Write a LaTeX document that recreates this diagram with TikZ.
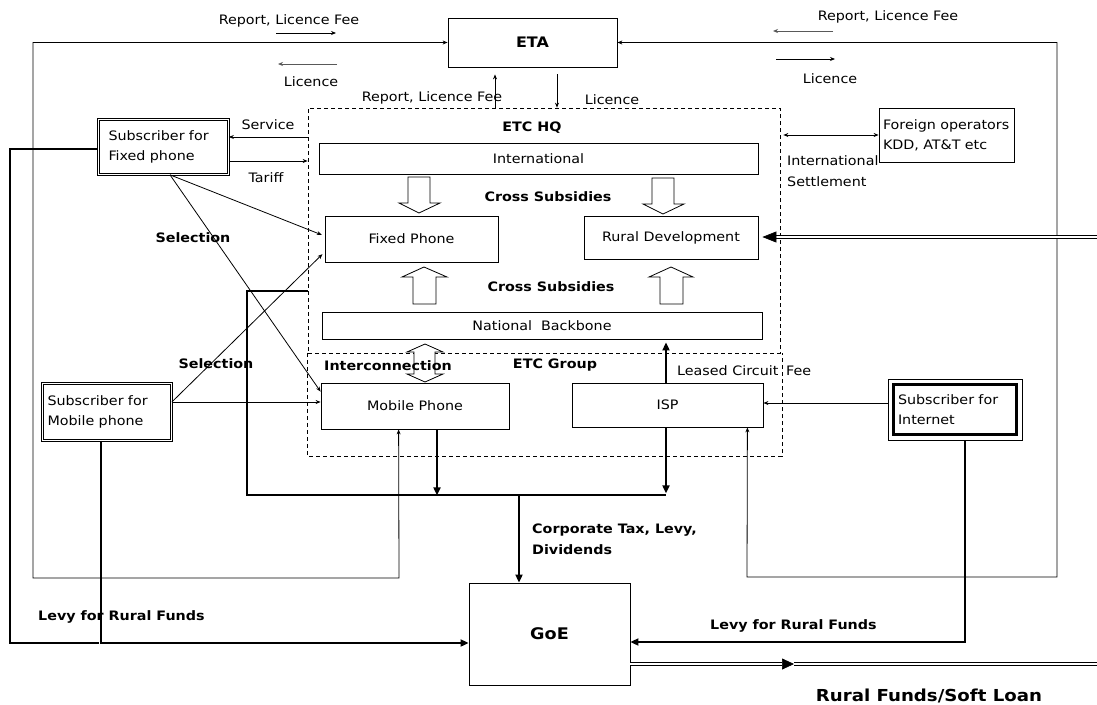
\documentclass[tikz,border=0pt]{standalone}
\usepackage{fontspec}
\setmainfont{DejaVu Sans}[FakeStretch=1.1]
\usetikzlibrary{arrows.meta}
\newcommand{\fN}{\fontsize{13}{20}\selectfont}
\newcommand{\fB}{\bfseries\fontsize{13}{21}\selectfont}
\begin{document}
\begin{tikzpicture}[x=1pt,y=-1pt,
  >={Stealth[length=5pt,width=4pt]},
  ln/.style={line width=0.8pt},
  thk/.style={line width=1.8pt},
  box/.style={draw, line width=0.8pt, inner sep=0pt, font=\fN},
  sub/.style={draw, double, double distance=1.5pt, line width=0.7pt, align=left, inner ysep=0pt, font=\fN},
  lbl/.style={inner sep=0pt, font=\fN},
  blbl/.style={inner sep=0pt, font=\fB},
  hollow/.style={draw, line width=0.8pt, fill=white},
  dashline/.style={line width=0.7pt, dash pattern=on 4pt off 3pt},
  dbl/.style={double, double distance=2pt, line width=0.7pt}
]
\useasboundingbox (0,0) rectangle (1097,704);

% dashed groups
\node[draw, dashline, inner sep=0pt, minimum width=472pt, minimum height=245pt] (hq) at (544,230.5) {};
\node[inner sep=0pt, minimum width=474pt, minimum height=103pt] (grp) at (545,404.5) {};
\draw[dashline] (grp.north west) -- (grp.south west) -- (grp.south east) -- (grp.north east);

% boxes
\node[box, minimum width=169pt, minimum height=49pt, font=\bfseries\fontsize{14.5}{17}\selectfont] (eta) at (532.5,42.5) {ETA};
\node[box, minimum width=439pt, minimum height=31pt] (intl) at (538.5,158.5) {International};
\node[box, minimum width=173pt, minimum height=46pt] (fp) at (411.5,239) {Fixed Phone};
\node[box, minimum width=174pt, minimum height=43pt] (rd) at (671,237.5) {Rural Development};
\node[box, minimum width=440pt, minimum height=27pt] (nb) at (542,325.5) {National\hspace{0.7em}Backbone};
\node[box, minimum width=188pt, minimum height=46pt] (mob) at (415,406) {Mobile Phone};
\node[box, minimum width=191pt, minimum height=44pt] (isp) at (667.5,405) {ISP};
\node[box, minimum width=161pt, minimum height=102pt, font=\bfseries\fontsize{16}{19}\selectfont] (gov) at (549.5,634) {GoE};
\node[box, minimum width=135pt, minimum height=54pt, inner xsep=4pt, text width=127pt, align=left] (fo) at (946.5,135) {\hyphenpenalty=10000 Foreign operators\\KDD, AT\&T etc};

% subscribers
\node[sub, minimum width=130pt, minimum height=55pt, inner xsep=10pt, text width=110pt] (sf) at (163.5,147) {Subscriber for\\Fixed phone};
\node[sub, minimum width=129pt, minimum height=57pt, inner xsep=5pt, text width=119pt] (sm) at (107,412) {Subscriber for\\Mobile phone};
\node[box, line width=0.7pt, minimum width=134pt, minimum height=61pt, inner xsep=10pt, text width=114pt, align=left] (si) at (955,409.5) {Subscriber for\\Internet};
\draw[line width=2.6pt] ([shift={(6,6)}]si.north west) rectangle ([shift={(-6,-6)}]si.south east);

% hollow block arrows
\draw[hollow] (408,177) -- (430,177) -- (430,203) -- (440,203) -- (419,213) -- (399,203) -- (408,203) -- cycle;
\draw[hollow] (652,178) -- (674,178) -- (674,204) -- (684,204) -- (663,214) -- (643,204) -- (652,204) -- cycle;
\draw[hollow] (413,304) -- (436,304) -- (436,277) -- (447,277) -- (424,267) -- (402,277) -- (413,277) -- cycle;
\draw[hollow] (660,304) -- (683,304) -- (683,277) -- (693,277) -- (671,267) -- (649,277) -- (660,277) -- cycle;
\draw[hollow] (425,344) -- (443,352) -- (435,352) -- (435,374) -- (443,374) -- (425,382) -- (407,374) -- (414,374) -- (414,352) -- (407,352) -- cycle;

% outer loops to ETA
\draw[ln,<->] (eta.west) -- (33,42.5) |- (399,578) -- ([xshift=78pt]mob.south west);
\draw[ln,<->] (eta.east) -- (1057,42.5) |- (747,577) -- ([xshift=-16pt]isp.south east);

% legend arrows near ETA
\draw[ln,->] (276,33) -- (336,33);
\draw[ln,->,black!65] (337,64) -- (278,64);
\draw[ln,->,black!65] (833,31) -- (773,31);
\draw[ln,->] (776,59) -- (835,59);
\draw[ln,->,shorten >=7pt] ([xshift=-49pt]hq.north) -- ([xshift=-37.5pt]eta.south);
\draw[ln,->,shorten <=7pt] ([xshift=24.5pt]eta.south) -- ([xshift=13pt]hq.north);

% service / tariff
\coordinate (sv) at ([yshift=10pt]sf.east);
\draw[ln,<-] (sv) -- (sv -| hq.west);
\coordinate (tf) at ([yshift=-14pt]sf.east);
\draw[ln,->] (tf) -- (tf -| hq.west);

% selections
\coordinate (sfb) at ([xshift=6.5pt]sf.south);
\draw[ln,->,shorten >=3pt] (sfb) -- ([yshift=3pt]fp.west);
\draw[ln,->] (sfb) -- ([yshift=-9pt]mob.north west);
\coordinate (sme) at ([yshift=10pt]sm.east);
\draw[ln,->] (sme) -- (sme -| mob.west);
\draw[ln,->,shorten >=3pt] (sme) -- ([yshift=-13pt]fp.west);

% levies
\draw[thk,-{Triangle[length=8pt,width=7pt]}] ([xshift=-6pt]sm.south) |- ([yshift=-9pt]gov.west);
\draw[thk] ([yshift=-2pt]sf.west) -| (10,643) -- (99,643);
\coordinate (sie) at ([yshift=6.5pt]si.west);
\draw[ln,->] (sie) -- (sie -| isp.east);
\draw[thk,-{Triangle[length=8pt,width=7pt]}] ([xshift=10pt]si.south) |- ([yshift=-8pt]gov.east);

% ETC payments
\draw[thk] ([yshift=-60.5pt]hq.west) -| (247,495) -- (666,495);
\draw[thk,-{Triangle[length=8pt,width=7pt]}] ([xshift=22pt]mob.south) -- ++(0,66);
\draw[thk,-{Triangle[length=8pt,width=7pt]}] ([xshift=-1.5pt]isp.south) -- ++(0,66);
\coordinate (j) at (519,495);
\draw[thk,-{Triangle[length=8pt,width=7pt]}] (j) -- (j |- gov.north);
\coordinate (ispn) at ([xshift=-1.5pt]isp.north);
\draw[thk,-{Triangle[length=8pt,width=7pt]},shorten >=3pt] (ispn) -- (ispn |- nb.south);

% international settlement
\coordinate (ise) at (hq.east |- fo.west);
\draw[ln,<->] ([xshift=3pt]ise) -- (fo.west);

% rural funds double lines
\coordinate (rdr) at (1097,237);
\draw[dbl,-{Triangle[length=14pt,width=11pt]},shorten >=4pt] (rdr) -- (rd.east |- rdr);
\coordinate (gr) at ([yshift=-30pt]gov.east);
\coordinate (gm) at (794,664);
\draw[dbl,-{Triangle[length=12pt,width=11pt]}] (gr) -- (gm);
\draw[dbl] (gm) -- (1097,664);

% labels
\node[lbl] at (289,21) {Report, Licence Fee};
\node[lbl] at (311,82) {Licence};
\node[lbl] at (888,17) {Report, Licence Fee};
\node[lbl] at (830,79) {Licence};
\node[lbl] at (432,98) {Report, Licence Fee};
\node[lbl] at (612,100) {Licence};
\node[blbl] at (532,128) {ETC HQ};
\node[lbl] at (268,125) {Service};
\node[lbl] at (266,178) {Tariff};
\node[lbl, anchor=west, align=left, font=\fontsize{13}{21}\selectfont] at (787,171.5) {International\\Settlement};
\node[blbl] at (193,238) {Selection};
\node[blbl] at (216,364) {Selection};
\node[blbl] at (548,197) {Cross Subsidies};
\node[blbl] at (551,287) {Cross Subsidies};
\node[blbl, anchor=west] at (324,366) {Interconnection};
\node[blbl] at (555,365) {ETC Group};
\node[lbl, anchor=west] at (677,371) {Leased Circuit\hspace{0.6em}Fee};
\node[blbl, anchor=west, align=left] at (532,539.5) {Corporate Tax, Levy,\\Dividends};
\node[blbl, anchor=west] at (38,617) {Levy for Rural Funds};
\node[blbl, anchor=west] at (710,626) {Levy for Rural Funds};
\node[inner sep=0pt, font=\bfseries\fontsize{16.5}{20}\selectfont] at (929,696) {Rural Funds/Soft Loan};
\end{tikzpicture}
\end{document}
